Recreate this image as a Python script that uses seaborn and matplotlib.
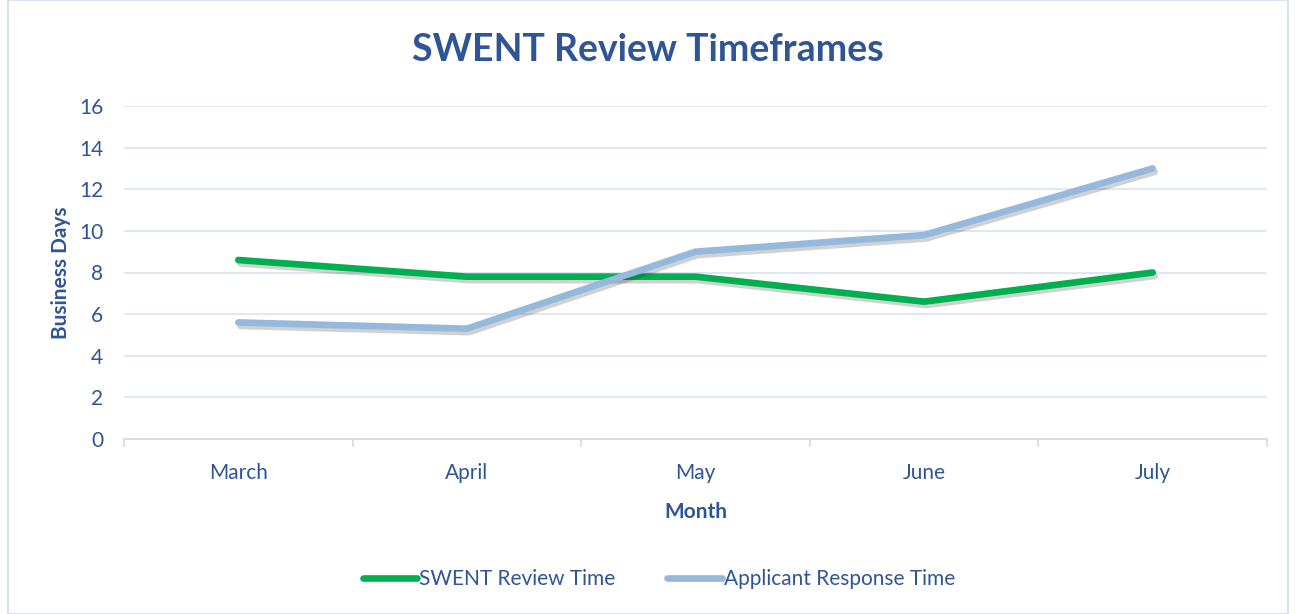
import pandas as pd
import matplotlib.pyplot as plt
import matplotlib.patheffects as pe
import seaborn as sns
import numpy as np

months = ['March', 'April', 'May', 'June', 'July']
swent_review = [8.6, 7.8, 7.8, 6.6, 8.0]
applicant_response = [5.6, 5.3, 9.0, 9.8, 13.0]

df = pd.DataFrame({
    'Month': months * 2,
    'Days': swent_review + applicant_response,
    'Series': ['SWENT Review Time'] * 5 + ['Applicant Response Time'] * 5,
})

sns.set_style('white')
plt.rcParams['font.family'] = ['Lato', 'DejaVu Sans']
blue = '#2F5597'

fig = plt.figure(figsize=(12.96, 6.14), dpi=100)
ax = fig.add_axes([124 / 1296, 1 - 439 / 614, (1267 - 124) / 1296, (439 - 106) / 614])

sns.lineplot(data=df, x='Month', y='Days', hue='Series',
             palette={'SWENT Review Time': '#00B050', 'Applicant Response Time': '#95B9DC'},
             linewidth=4.8, ax=ax, sort=False)
for line in ax.lines:
    line.set_solid_capstyle('round')
    line.set_solid_joinstyle('round')
    line.set_path_effects([pe.SimpleLineShadow(offset=(1.5, -2.5), alpha=0.18, shadow_color='black'),
                           pe.Normal()])

ax.set_xlim(-0.5, 4.5)
ax.set_ylim(0, 16)
ax.set_yticks(np.arange(0, 17, 2))
ax.grid(axis='y', color='#D9E1F2', linewidth=1.2)
ax.set_axisbelow(True)
for s in ['top', 'right', 'left']:
    ax.spines[s].set_visible(False)
ax.spines['bottom'].set_color('#D9D9D9')
ax.spines['bottom'].set_linewidth(1.2)

ax.set_xticks(range(5))
ax.set_xticklabels(months)
ax.set_xticks(np.arange(-0.5, 5, 1), minor=True)
ax.tick_params(axis='x', which='major', length=0, pad=17, labelsize=15, labelcolor=blue)
ax.tick_params(axis='x', which='minor', length=6, color='#D9D9D9', width=1.2, direction='out', bottom=True)
ax.tick_params(axis='y', length=0, pad=15, labelsize=15, labelcolor=blue)

ax.set_xlabel('Month', fontsize=15, fontweight='bold', color=blue, labelpad=14)
ax.set_ylabel('Business Days', fontsize=15, fontweight='bold', color=blue, labelpad=6)
fig.suptitle('SWENT Review Timeframes', x=0.5, y=1 - 50 / 614, va='center',
             fontsize=27, fontweight='bold', color=blue)

leg = ax.legend(loc='center', bbox_to_anchor=(0.468, -0.42), ncol=2, frameon=False,
                fontsize=15, handlelength=2.6, handletextpad=0.1, columnspacing=2.5)
for t in leg.get_texts():
    t.set_color(blue)
for h in leg.legend_handles:
    h.set_linewidth(4.8)
    h.set_path_effects([])

fig.patches.append(plt.Rectangle((8 / 1296, 0), 1 - 16 / 1296, 1, transform=fig.transFigure,
                                 fill=False, edgecolor='#D9E1F2', linewidth=1.5))

fig.savefig('out.png', dpi=100)
